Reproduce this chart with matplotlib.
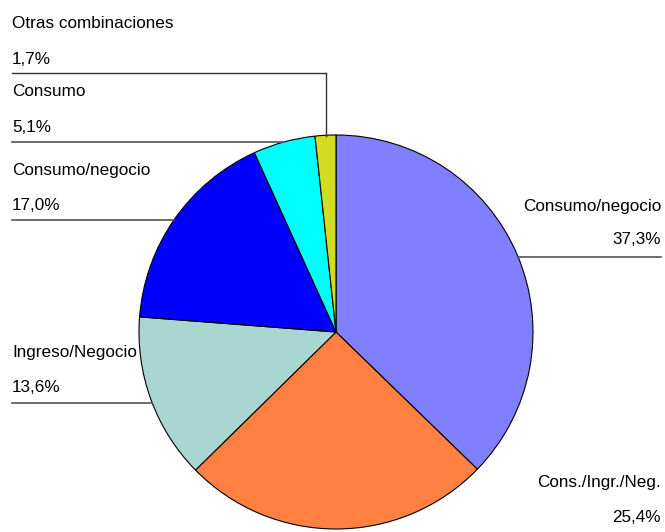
import matplotlib.pyplot as plt
import numpy as np

plt.rcParams['font.family'] = ['Liberation Sans', 'DejaVu Sans']

labels = ["Consumo/negocio", "Cons./Ingr./Neg.", "Ingreso/Negocio",
          "Consumo/negocio", "Consumo", "Otras combinaciones"]
values = [37.3, 25.4, 13.6, 17.0, 5.1, 1.7]
colors = ["#8080FF", "#FF8040", "#AAD6D1", "#0000FF", "#00FFFF", "#D4DC22"]

W, H = 665, 532
fig = plt.figure(figsize=(W / 100, H / 100), dpi=100)
ax = fig.add_axes([0, 0, 1, 1])

cx, cy, r = 336, H - 332, 197
ax.pie(values, colors=colors, startangle=90, counterclock=False,
       center=(cx, cy), radius=r,
       wedgeprops=dict(edgecolor="black", linewidth=0.8))
ax.set_xlim(0, W)
ax.set_ylim(0, H)
ax.set_aspect("equal")
ax.axis("off")


def fmt(v):
    return f"{v:.1f}%".replace(".", ",")


def edge_x(y_px, side):
    dy = (H - y_px) - cy
    dx = np.sqrt(max(r * r - dy * dy, 0))
    return cx + side * dx


def ty(y_px):
    return H - y_px


fs = 12.3
line_kw = dict(color="#555555", lw=1.2)

# left labels: (index, text y, pct y, line y)
left = [(5, 23, 60, 73), (4, 91, 128, 142), (3, 170, 206, 220), (2, 353, 388, 403)]
for i, y1, y2, yl in left:
    ax.text(12, ty(y1), labels[i], fontsize=fs, va="center", ha="left")
    ax.text(12, ty(y2), fmt(values[i]), fontsize=fs, va="center", ha="left")
    if i == 5:
        ax.plot([12, 326], [ty(yl), ty(yl)], color="#333333", lw=1)
        ax.plot([326, 326], [ty(yl), ty(136)], color="#333333", lw=1)
    else:
        ax.plot([12, edge_x(yl, -1)], [ty(yl), ty(yl)], **line_kw)

# right labels
right = [(0, 206, 240, 257), (1, 483, 517, None)]
for i, y1, y2, yl in right:
    ax.text(661, ty(y1), labels[i], fontsize=fs, va="center", ha="right")
    ax.text(661, ty(y2), fmt(values[i]), fontsize=fs, va="center", ha="right")
    if yl is not None:
        ax.plot([edge_x(yl, 1), 661], [ty(yl), ty(yl)], **line_kw)

fig.savefig("out.png", dpi=100)
